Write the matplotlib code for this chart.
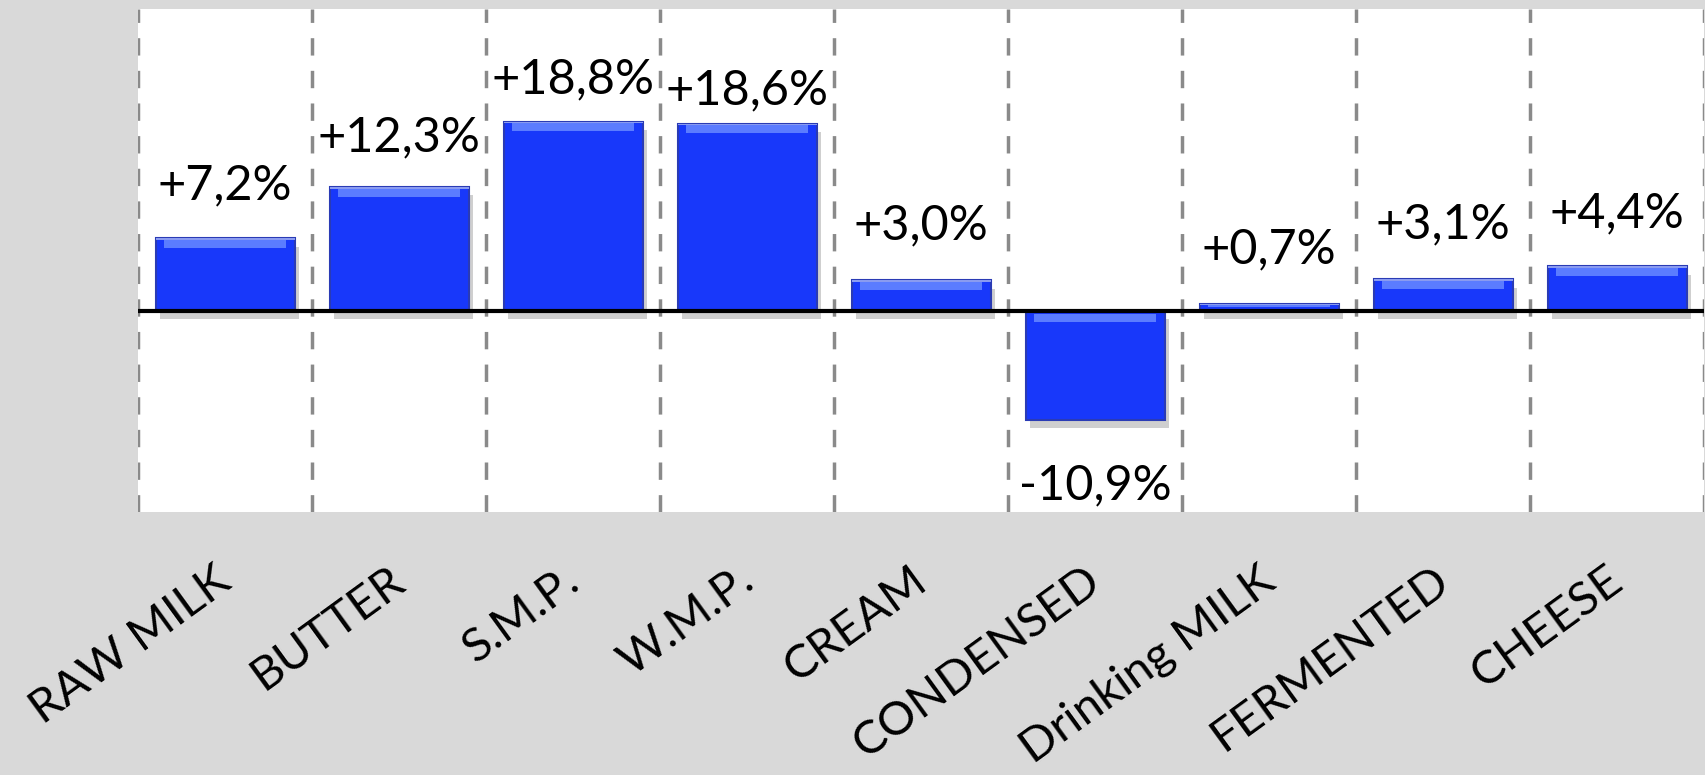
import matplotlib.pyplot as plt
import matplotlib.patheffects as pe
from matplotlib.transforms import ScaledTranslation

# Datos del gráfico
categorias = ['RAW MILK', 'BUTTER', 'S.M.P.', 'W.M.P.', 'CREAM', 'CONDENSED',
              'Drinking MILK', 'FERMENTED', 'CHEESE']
variacion = [7.2, 12.3, 18.8, 18.6, 3.0, -10.9, 0.7, 3.1, 4.4]
etiquetas = ['+7,2%', '+12,3%', '+18,8%', '+18,6%', '+3,0%', '-10,9%',
             '+0,7%', '+3,1%', '+4,4%']

# Separación de cada etiqueta respecto a su barra (puntos)
sep_etiqueta = [22, 20, 15, 8, 24, 31, 23, 24, 22]

plt.rcParams['font.family'] = ['Lato', 'DejaVu Sans']

fig = plt.figure(figsize=(17.05, 7.75), dpi=100, facecolor='#d9d9d9')
ax = fig.add_axes([0.081, 0.34, 0.9185, 0.648])
ax.set_facecolor('white')

x = list(range(len(categorias)))

# Líneas verticales discontinuas entre categorías
for b in range(len(categorias) + 1):
    ax.axvline(b - 0.5, color='#8a8a8a', lw=2.5, linestyle=(0, (5, 4.4)), zorder=1)

# Barras principales con sombra
barras = ax.bar(x, variacion, width=0.8, color='#1838fa', edgecolor='#2a3bb5',
                linewidth=1.5, zorder=3)
for p in barras:
    p.set_path_effects([pe.SimplePatchShadow(offset=(3, -6), shadow_rgbFace='#777777', alpha=0.35),
                        pe.Normal()])

# Franja clara en la parte superior (efecto biselado)
for xi, v in zip(x, variacion):
    alto = min(0.8, abs(v) * 0.25)
    if v >= 0:
        ax.bar(xi, alto, bottom=v - alto - 0.15, width=0.7, color='#5b7cff',
               linewidth=0, zorder=4)
        ax.bar(xi, 0.15, bottom=v - 0.15, width=0.8, color='#8a9bf0',
               linewidth=0, zorder=4)
    else:
        ax.bar(xi, -alto, bottom=-0.3, width=0.7, color='#5b7cff',
               linewidth=0, zorder=4)

# Línea del cero
ax.axhline(0, color='black', lw=3, zorder=5)

# Etiquetas de valores
for xi, v, txt, s in zip(x, variacion, etiquetas, sep_etiqueta):
    if v >= 0:
        ax.annotate(txt, (xi, v), xytext=(0, s), textcoords='offset points',
                    ha='center', va='bottom', fontsize=35, color='black', zorder=6)
    else:
        ax.annotate(txt, (xi, v), xytext=(0, -s), textcoords='offset points',
                    ha='center', va='top', fontsize=35, color='black', zorder=6)

ax.set_xlim(-0.5, len(categorias) - 0.5)
ax.set_ylim(-20, 30)
ax.set_yticks([])
ax.set_xticks(x)
ax.set_xticklabels(categorias, rotation=36, ha='right', va='top',
                   rotation_mode='anchor', fontsize=34)
ax.tick_params(axis='x', length=0, pad=34)
desplaza = ScaledTranslation(-8 / 72, 0, fig.dpi_scale_trans)
for lab in ax.get_xticklabels():
    lab.set_transform(lab.get_transform() + desplaza)
for s in ax.spines.values():
    s.set_visible(False)

fig.savefig('out.png', dpi=100, facecolor=fig.get_facecolor())
